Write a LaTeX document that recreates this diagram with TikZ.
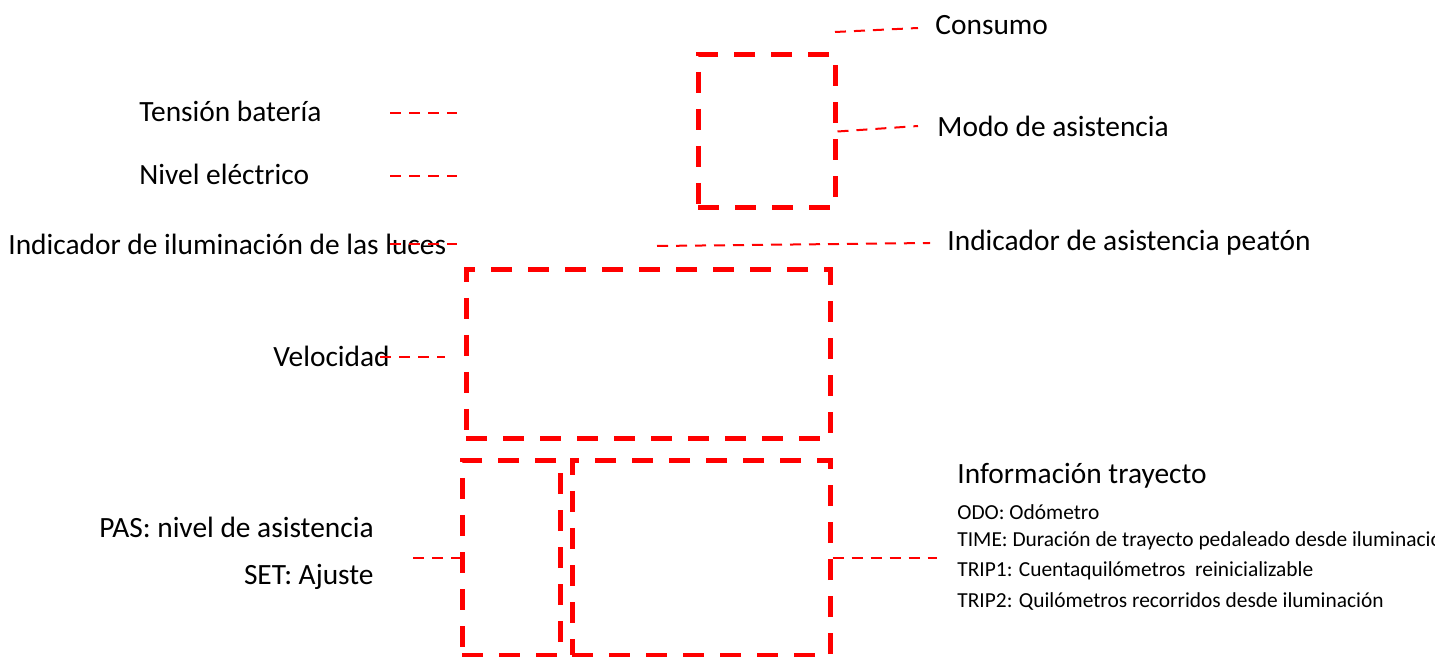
\documentclass[tikz,border=0pt]{standalone}
\usepackage{fontspec}
\setmainfont{Carlito}
\usetikzlibrary{positioning}

\begin{document}
\begin{tikzpicture}[x=0.5pt,y=-0.5pt,
  panel/.style={draw=red,line width=2.5pt,dash pattern=on 10.5pt off 8pt,
                inner sep=0pt},
  leader/.style={draw=red,line width=1pt,dash pattern=on 5.5pt off 4pt},
  lbl/.style={anchor=west,inner sep=0pt,font=\fontsize{14.7}{17.6}\selectfont},
  small/.style={anchor=west,inner sep=0pt,font=\fontsize{10.7}{13}\selectfont}]
\useasboundingbox (0,0) rectangle (1435,657);
% display panels
\node[panel,minimum width=68.5pt,minimum height=76.5pt] (modobox) at (766.5,131.5) {};
\node[panel,minimum width=182pt,minimum height=84.5pt] (velbox) at (648,354.5) {};
\node[panel,minimum width=49pt,minimum height=97pt] (pasbox) at (511,558) {};
\node[panel,minimum width=129pt,minimum height=97pt] (infobox) at (701,558) {};
% labels
\node[lbl] (consumo) at (935,25) {Consumo};
\node[lbl] (modo) at (937,126) {Modo de asistencia};
\node[lbl] (tension) at (139,111) {Tensión batería};
\node[lbl] (nivel) at (139,174) {Nivel eléctrico};
\node[lbl] (luces) at (8,244) {Indicador de iluminación de las luces};
\node[lbl] (peaton) at (947,243) {Indicador de asistencia peatón};
\node[lbl] (vel) at (273,356) {Velocidad};
\node[lbl,anchor=east,align=right] (pas) at (374,553.5)
  {PAS: nivel de asistencia\\[5.9pt]SET: Ajuste};
\node[lbl] (info) at (957,476) {Información trayecto};
\node[small] (odo) at (957,512) {ODO: Odómetro};
\node[small] (time) at (957,541) {TIME: Duración de trayecto pedaleado desde iluminación};
\node[small] (trip1) at (957,571) {TRIP1: Cuentaquilómetros\ \ reinicializable};
\node[small] (trip2) at (957,601) {TRIP2: Quilómetros recorridos desde iluminación};
% leader ends
\coordinate (c1) at (835,32);
\coordinate (c2) at (390,113);
\coordinate (c3) at (457,113);
\coordinate (c4) at (390,176);
\coordinate (c5) at (457,176);
\coordinate (c6) at (390,244);
\coordinate (c7) at (457,244);
\coordinate (c8) at (657,246);
\coordinate (c9) at (380,357);
\coordinate (c10) at (445,357);
\coordinate (c11) at (413,558);
% leaders
\draw[leader] (c1) -- ([xshift=-8.5pt,yshift=-1.5pt]consumo.west);
\draw[leader] (modobox.east) -- ([xshift=-9.5pt]modo.west);
\draw[leader] (c2) -- (c3);
\draw[leader] (c4) -- (c5);
\draw[leader] (c6) -- (c7);
\draw[leader] (c8) -- ([xshift=-8.5pt]peaton.west);
\draw[leader] (c9) -- (c10);
\draw[leader] (c11) -- (pasbox.west);
\draw[leader] (infobox.east) -- ([xshift=-10pt]infobox.east -| info.west);
\end{tikzpicture}
\end{document}
